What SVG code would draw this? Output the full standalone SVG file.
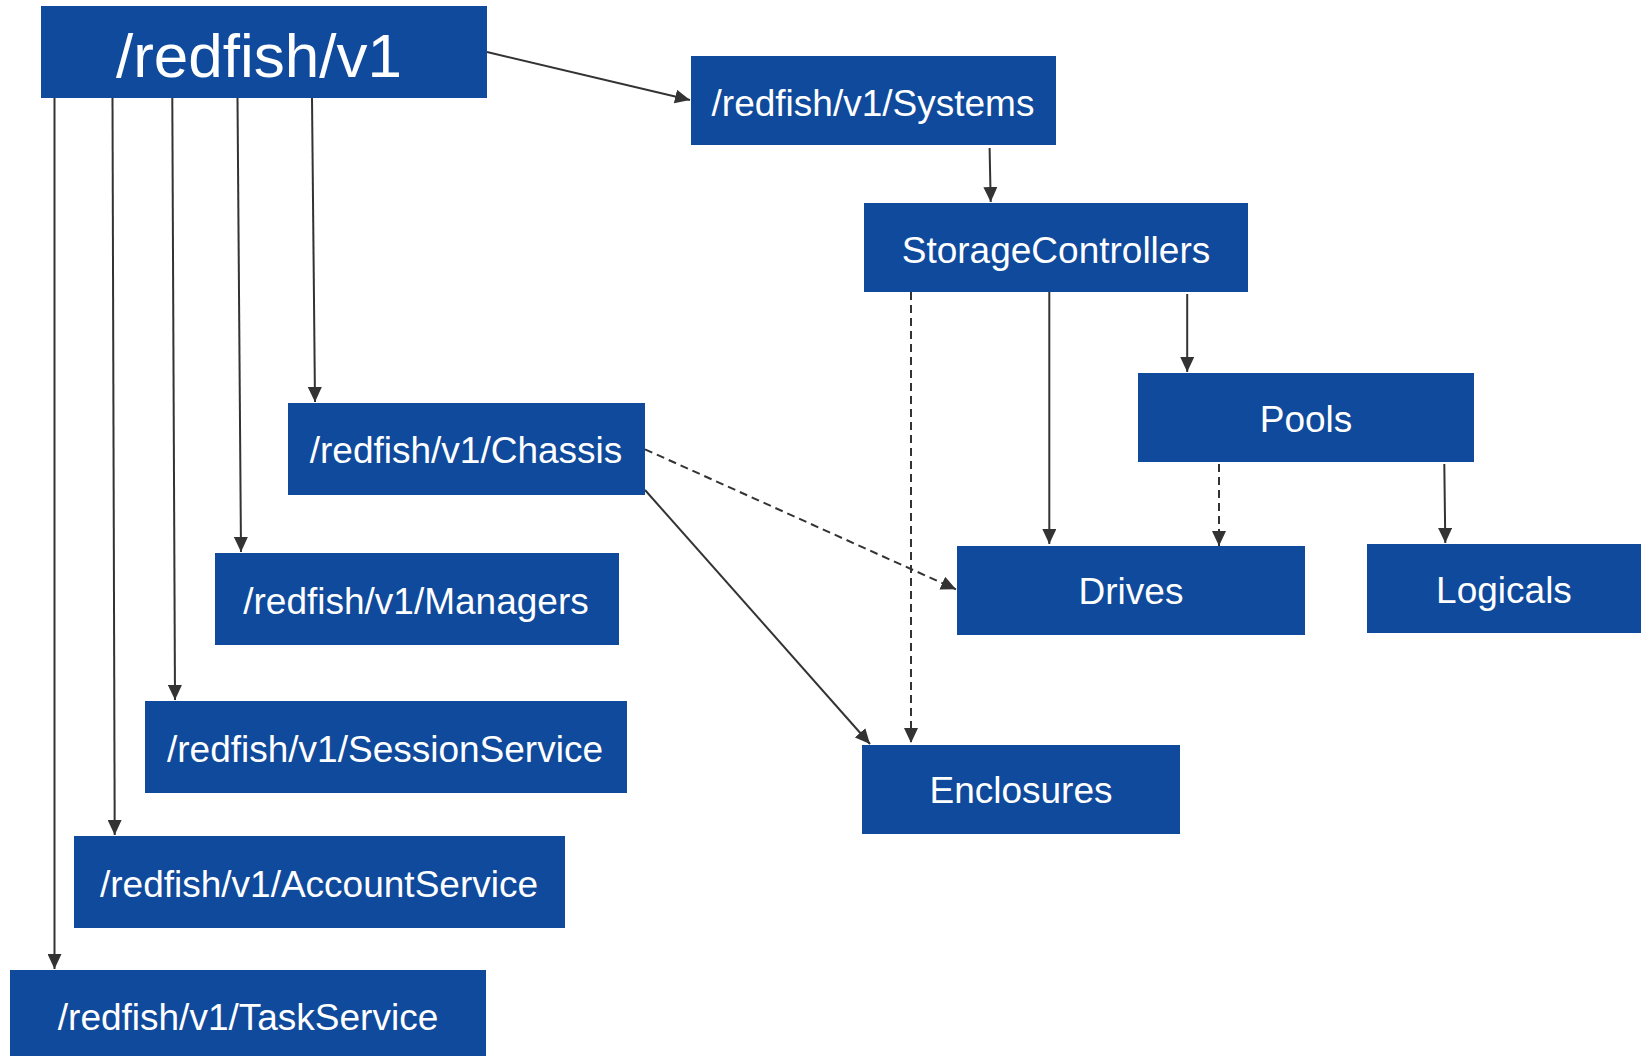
<svg xmlns="http://www.w3.org/2000/svg" width="1645" height="1056" viewBox="0 0 1645 1056">
<style>
.box{fill:#0F4A9C}
.lbl{fill:#ffffff;font-family:"Liberation Sans",Arial,sans-serif;font-size:37px;text-anchor:middle}
.big{font-size:62px}
.c{stroke:#333333;stroke-width:2;fill:none;marker-end:url(#ah)}
.d{stroke-dasharray:8 5}
</style>
<defs>
<marker id="ah" markerUnits="userSpaceOnUse" markerWidth="16" markerHeight="14" refX="15" refY="7" orient="auto">
<path d="M0,0 L15,7 L0,14 z" fill="#333333"/>
</marker>
</defs>
<rect width="1645" height="1056" fill="#ffffff"/>
<g id="connectors">
<line class="c" x1="487" y1="52" x2="690" y2="100"/>
<line class="c" x1="312" y1="98" x2="315" y2="402"/>
<line class="c" x1="237.5" y1="98" x2="241" y2="552"/>
<line class="c" x1="172.3" y1="98" x2="175" y2="700"/>
<line class="c" x1="112.5" y1="98" x2="114.7" y2="835"/>
<line class="c" x1="54.5" y1="98" x2="54.5" y2="969"/>
<line class="c" x1="989.6" y1="148" x2="990.7" y2="202"/>
<line class="c d" x1="911" y1="292" x2="911" y2="743"/>
<line class="c" x1="1049.3" y1="292" x2="1049.3" y2="544"/>
<line class="c" x1="1187.2" y1="294" x2="1187.2" y2="372"/>
<line class="c d" x1="1219" y1="464" x2="1219" y2="546"/>
<line class="c" x1="1444.3" y1="464" x2="1445.3" y2="543"/>
<line class="c d" x1="645" y1="449.3" x2="956" y2="589.3"/>
<line class="c" x1="645" y1="490" x2="870" y2="744"/>
</g>
<g id="root"><rect class="box" x="41" y="6" width="446" height="92"/><text class="lbl big" x="259" y="77">/redfish/v1</text></g>
<g id="systems"><rect class="box" x="691" y="56" width="365" height="89"/><text class="lbl" x="873" y="115.5">/redfish/v1/Systems</text></g>
<g id="storagecontrollers"><rect class="box" x="864" y="203" width="384" height="89"/><text class="lbl" x="1056" y="262.5">StorageControllers</text></g>
<g id="pools"><rect class="box" x="1138" y="373" width="336" height="89"/><text class="lbl" x="1306" y="432">Pools</text></g>
<g id="drives"><rect class="box" x="957" y="546" width="348" height="89"/><text class="lbl" x="1131" y="604">Drives</text></g>
<g id="logicals"><rect class="box" x="1367" y="544" width="274" height="89"/><text class="lbl" x="1504" y="603">Logicals</text></g>
<g id="chassis"><rect class="box" x="288" y="403" width="357" height="92"/><text class="lbl" x="466" y="463">/redfish/v1/Chassis</text></g>
<g id="managers"><rect class="box" x="215" y="553" width="404" height="92"/><text class="lbl" x="416" y="613.5">/redfish/v1/Managers</text></g>
<g id="sessionservice"><rect class="box" x="145" y="701" width="482" height="92"/><text class="lbl" x="385" y="761.5">/redfish/v1/SessionService</text></g>
<g id="accountservice"><rect class="box" x="74" y="836" width="491" height="92"/><text class="lbl" x="319" y="896.5">/redfish/v1/AccountService</text></g>
<g id="taskservice"><rect class="box" x="10" y="970" width="476" height="92"/><text class="lbl" x="248" y="1029.5">/redfish/v1/TaskService</text></g>
<g id="enclosures"><rect class="box" x="862" y="745" width="318" height="89"/><text class="lbl" x="1021" y="803">Enclosures</text></g>
</svg>
